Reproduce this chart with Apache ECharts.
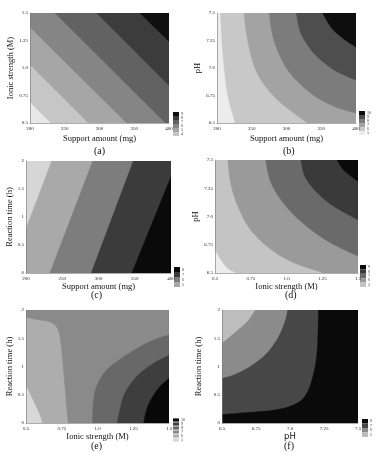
<!DOCTYPE html>
<html>
<head>
<meta charset="utf-8">
<script src="https://cdn.jsdelivr.net/npm/echarts@6/dist/echarts.min.js"></script>
<style>
  html, body { margin: 0; padding: 0; background: #fff; }
  #chart { width: 389px; height: 458px; }
</style>
</head>
<body>
<div id="chart"></div>
<script>
// tick labels
const supportTicks = ['200', '250', '300', '350', '400']
const ionicTicks = ['0.5', '0.75', '1.0', '1.25', '1.5']
const phTicks = ['6.5', '6.75', '7.0', '7.25', '7.5']
const timeTicks = ['0', '0.5', '1', '1.5', '2']

// contour boundaries, lowest level first (data units)
const contoursA = [
  [[200, 0.69], [230, 0.5]],
  [[200, 1.03], [284, 0.5]],
  [[200, 1.37], [339, 0.5]],
  [[236, 1.5], [395, 0.5]],
  [[296, 1.5], [400, 0.84]],
  [[358, 1.5], [400, 1.24]]
]
const contoursB = [
  [[205, 7.5], [208, 7.16], [215, 6.77], [226, 6.5]],
  [[239, 7.5], [244, 7.25], [258, 6.95], [287, 6.71], [330, 6.5]],
  [[275, 7.5], [282, 7.25], [302, 6.98], [335, 6.77], [369, 6.65], [400, 6.59]],
  [[314, 7.5], [321, 7.31], [340, 7.13], [369, 6.98], [400, 6.89]],
  [[352, 7.5], [364, 7.37], [381, 7.27], [400, 7.19]]
]
const contoursC = [
  [[235.5, 2], [200, 0.79]],
  [[292, 2], [233, 0]],
  [[348, 2], [290, 0]],
  [[400, 1.72], [346, 0]]
]
const contoursD = [
  [[0.5, 6.71], [0.54, 6.62], [0.59, 6.54], [0.65, 6.5]],
  [[0.59, 7.5], [0.61, 7.29], [0.66, 7.09], [0.75, 6.88], [0.89, 6.71], [1.05, 6.59], [1.26, 6.5]],
  [[0.855, 7.5], [0.885, 7.32], [0.96, 7.15], [1.075, 6.985], [1.24, 6.82], [1.38, 6.72], [1.5, 6.65]],
  [[1.1, 7.5], [1.13, 7.35], [1.215, 7.21], [1.33, 7.09], [1.5, 6.97]],
  [[1.354, 7.5], [1.4, 7.41], [1.5, 7.31]]
]
const contoursE = [
  [[0.5, 0.67], [0.54, 0.46], [0.574, 0.28], [0.598, 0.14], [0.616, 0]],
  [[0.5, 1.87], [0.574, 1.83], [0.667, 1.79], [0.714, 1.7], [0.737, 1.53], [0.749, 1.29], [0.76, 0.99], [0.772, 0.64], [0.784, 0.28], [0.795, 0]],
  [[1.5, 1.56], [1.365, 1.44], [1.2, 1.2], [1.063, 0.935], [0.993, 0.64], [0.97, 0.34], [0.965, 0]],
  [[1.5, 1.2], [1.388, 1.05], [1.272, 0.82], [1.19, 0.52], [1.156, 0.225], [1.137, 0]],
  [[1.5, 0.79], [1.435, 0.64], [1.377, 0.43], [1.342, 0.225], [1.323, 0]]
]
const contoursF = [
  [[6.5, 1.41], [6.56, 1.53], [6.635, 1.68], [6.696, 1.82], [6.745, 2]],
  [[6.5, 0.79], [6.586, 0.85], [6.708, 1.0], [6.83, 1.235], [6.917, 1.53], [6.966, 1.82], [6.983, 2]],
  [[6.5, 0.15], [6.66, 0.18], [6.9, 0.235], [7.05, 0.35], [7.125, 0.53], [7.174, 0.88], [7.2, 1.29], [7.21, 2]]
]

// legend labels per band (lowest band first, null = not in legend)
const levelsA = [null, '4', '5', '6', '7', '8', '9']
const levelsB = ['5', '6', '7', '8', '9', '10']
const levelsC = [null, '5', '6', '7', '8']
const levelsD = [null, '5', '6', '7', '8', '9']
const levelsE = ['5', '6', '7', '8', '9', '10']
const levelsF = ['5', '6', '7', '8']

const serif = 'Liberation Serif'

// corner index of the highest band: 0 bottom-left, 1 top-left, 2 top-right, 3 bottom-right
const panels = [
  {
    id: 'a', xTicks: supportTicks, yTicks: ionicTicks, contours: contoursA, levels: levelsA, peak: 2,
    xName: 'Support amount (mg)', yName: 'Ionic strength (M)',
    greys: ['#e8e8e8', '#c6c6c6', '#a6a6a6', '#858585', '#626262', '#3c3c3c', '#101010'],
    grid: { left: 30, top: 13, width: 139, height: 110 }, xGap: 11, yGap: 13,
    legend: { left: 173, top: 112, h: 4 }, tag: [100, 152]
  },
  {
    id: 'b', xTicks: supportTicks, yTicks: phTicks, contours: contoursB, levels: levelsB, peak: 2,
    xName: 'Support amount (mg)', yName: 'pH',
    greys: ['#ececec', '#c8c8c8', '#a3a3a3', '#7c7c7c', '#4e4e4e', '#0e0e0e'],
    grid: { left: 217, top: 13, width: 139, height: 110 }, xGap: 11, yGap: 12,
    legend: { left: 359, top: 111, h: 4 }, tag: [289, 152]
  },
  {
    id: 'c', xTicks: supportTicks, yTicks: timeTicks, contours: contoursC, levels: levelsC, peak: 3,
    xName: 'Support amount (mg)', yName: 'Reaction time (h)',
    greys: ['#d6d6d6', '#a9a9a9', '#7d7d7d', '#3b3b3b', '#0a0a0a'],
    grid: { left: 26, top: 161, width: 145, height: 112 }, xGap: 9, yGap: 9,
    legend: { left: 174, top: 267, h: 5 }, tag: [97, 296]
  },
  {
    id: 'd', xTicks: ionicTicks, yTicks: phTicks, contours: contoursD, levels: levelsD, peak: 2,
    xName: 'Ionic strength (M)', yName: 'pH',
    greys: ['#ececec', '#c4c4c4', '#9a9a9a', '#6a6a6a', '#3a3a3a', '#0a0a0a'],
    grid: { left: 215, top: 160, width: 143, height: 113 }, xGap: 9, yGap: 11,
    legend: { left: 360, top: 265, h: 4.4 }, tag: [291, 296]
  },
  {
    id: 'e', xTicks: ionicTicks, yTicks: timeTicks, contours: contoursE, levels: levelsE, peak: 3,
    xName: 'Ionic strength (M)', yName: 'Reaction time (h)',
    greys: ['#d8d8d8', '#adadad', '#8a8a8a', '#686868', '#3e3e3e', '#080808'],
    grid: { left: 26, top: 310, width: 143, height: 113 }, xGap: 9, yGap: 9,
    legend: { left: 173, top: 418, h: 3.2 }, tag: [97, 447]
  },
  {
    id: 'f', xTicks: phTicks, yTicks: timeTicks, contours: contoursF, levels: levelsF, peak: 3,
    xName: 'pH', yName: 'Reaction time (h)', xNameFont: 'DejaVu Sans',
    greys: ['#bdbdbd', '#8b8b8b', '#474747', '#0a0a0a'],
    grid: { left: 222, top: 310, width: 136, height: 113 }, xGap: 9, yGap: 19,
    legend: { left: 362, top: 419, h: 4.5 }, tag: [290, 447]
  }
]

function ext(ticks) {
  const min = +ticks[0]
  const max = +ticks[ticks.length - 1]
  return { min, max, interval: (max - min) / (ticks.length - 1) }
}

// smooth the boundary for drawing only (Catmull-Rom in pixel space)
function smoothPx(pts) {
  if (pts.length < 3) return pts
  const out = []
  for (let i = 0; i < pts.length - 1; i++) {
    const p0 = pts[Math.max(i - 1, 0)]
    const p1 = pts[i]
    const p2 = pts[i + 1]
    const p3 = pts[Math.min(i + 2, pts.length - 1)]
    for (let s = 0; s < 8; s++) {
      const t = s / 8
      const t2 = t * t
      const t3 = t2 * t
      out.push([0, 1].map(d => 0.5 * (2 * p1[d] + (-p0[d] + p2[d]) * t +
        (2 * p0[d] - 5 * p1[d] + 4 * p2[d] - p3[d]) * t2 +
        (-p0[d] + 3 * p1[d] - 3 * p2[d] + p3[d]) * t3)))
    }
  }
  out.push(pts[pts.length - 1])
  return out
}

function bandPolygon(p, k, api) {
  const xe = ext(p.xTicks)
  const ye = ext(p.yTicks)
  const corners = [[xe.min, ye.min], [xe.min, ye.max], [xe.max, ye.max], [xe.max, ye.min]]
  if (k === 0) return corners.map(c => api.coord(c))
  const line = p.contours[k - 1]
  const W = xe.max - xe.min
  const H = ye.max - ye.min
  const mod = v => ((v % 4) + 4) % 4
  const perim = ([x, y]) => {
    if (Math.abs(x - xe.min) < W * 1e-3) return (y - ye.min) / H
    if (Math.abs(y - ye.max) < H * 1e-3) return 1 + (x - xe.min) / W
    if (Math.abs(x - xe.max) < W * 1e-3) return 2 + (ye.max - y) / H
    return 3 + (xe.max - x) / W
  }
  const tS = perim(line[0])
  const tE = perim(line[line.length - 1])
  let pick = [0, 1, 2, 3]
    .filter(c => mod(c - tE) > 0 && mod(c - tE) < mod(tS - tE))
    .sort((a, b) => mod(a - tE) - mod(b - tE))
  if (pick.indexOf(p.peak) < 0) {
    pick = [0, 1, 2, 3]
      .filter(c => mod(tE - c) > 0 && mod(tE - c) < mod(tE - tS))
      .sort((a, b) => mod(tE - a) - mod(tE - b))
  }
  const curve = smoothPx(line.map(pt => api.coord(pt)))
  return curve.concat(pick.map(c => api.coord(corners[c])))
}

const grid = []
const xAxis = []
const yAxis = []
const legend = []
const series = []
const graphic = []

panels.forEach((p, i) => {
  const xe = ext(p.xTicks)
  const ye = ext(p.yTicks)
  grid.push(Object.assign({ containLabel: false }, p.grid))
  xAxis.push({
    gridIndex: i, type: 'value', min: xe.min, max: xe.max, interval: xe.interval, z: 5,
    name: p.xName, nameLocation: 'middle', nameGap: p.xGap,
    nameTextStyle: { fontFamily: p.xNameFont || serif, fontSize: 8.5, color: '#111' },
    axisLine: { show: true, onZero: false, lineStyle: { color: '#777', width: 0.6 } },
    axisTick: { show: false }, splitLine: { show: false },
    axisLabel: {
      fontFamily: serif, fontSize: 5, color: '#222', margin: 3, showMinLabel: true, showMaxLabel: true,
      formatter: v => p.xTicks[Math.round((v - xe.min) / xe.interval)]
    }
  })
  yAxis.push({
    gridIndex: i, type: 'value', min: ye.min, max: ye.max, interval: ye.interval, z: 5,
    name: p.yName, nameLocation: 'middle', nameGap: p.yGap,
    nameTextStyle: { fontFamily: serif, fontSize: 8.5, color: '#111' },
    axisLine: { show: true, onZero: false, lineStyle: { color: '#777', width: 0.6 } },
    axisTick: { show: false }, splitLine: { show: false },
    axisLabel: {
      fontFamily: serif, fontSize: 5, color: '#222', margin: 2, showMinLabel: true, showMaxLabel: true,
      formatter: v => p.yTicks[Math.round((v - ye.min) / ye.interval)]
    }
  })
  const names = []
  p.levels.forEach((lv, k) => {
    const name = p.id + '|' + (lv === null ? '' : lv) + '|' + k
    if (lv !== null) names.unshift(name)
    series.push({
      type: 'custom', name: name, xAxisIndex: i, yAxisIndex: i,
      data: [[xe.min, ye.min]], silent: true, animation: false, clip: true,
      itemStyle: { color: p.greys[k] },
      renderItem: (params, api) => ({
        type: 'polygon',
        shape: { points: bandPolygon(p, k, api) },
        style: { fill: p.greys[k], stroke: p.greys[k], lineWidth: 0.4 }
      })
    })
  })
  legend.push({
    data: names, orient: 'vertical', left: p.legend.left, top: p.legend.top,
    itemWidth: 6, itemHeight: p.legend.h, itemGap: 0, padding: 0, icon: 'rect',
    selectedMode: false,
    textStyle: { fontFamily: serif, fontSize: 4, color: '#333', padding: [0, 0, 0, -3] },
    formatter: n => n.split('|')[1]
  })
  graphic.push({
    type: 'text', left: p.tag[0] - 6, top: p.tag[1] - 6,
    style: { text: '(' + p.id + ')', font: '10px "Liberation Serif"', fill: '#111' }
  })
})

const chart = echarts.init(document.getElementById('chart'))
chart.setOption({
  backgroundColor: '#fff',
  animation: false,
  grid: grid,
  xAxis: xAxis,
  yAxis: yAxis,
  legend: legend,
  graphic: graphic,
  series: series
})
</script>
</body>
</html>
